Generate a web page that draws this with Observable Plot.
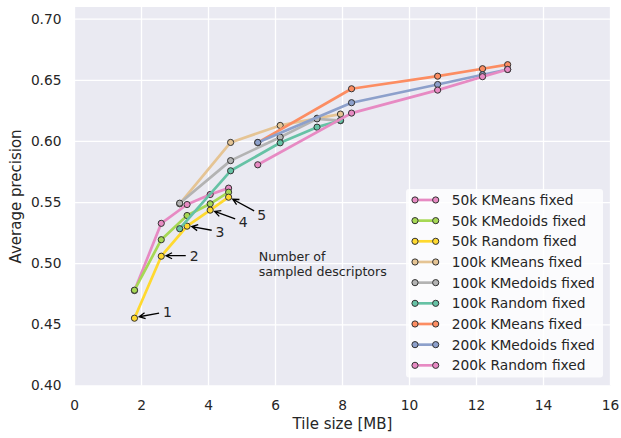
<!DOCTYPE html>
<html><head><meta charset="utf-8">
<script src="https://cdn.jsdelivr.net/npm/d3@7"></script>
<script src="https://cdn.jsdelivr.net/npm/@observablehq/plot@0.6"></script>
<style>
html,body{margin:0;padding:0;background:#fff;}
#chart svg{display:block;}
</style>
</head><body><div id="chart"></div>
<script>
// ---- data ----
const seriesNames = [
  "50k KMeans fixed", "50k KMedoids fixed", "50k Random fixed",
  "100k KMeans fixed", "100k KMedoids fixed", "100k Random fixed",
  "200k KMeans fixed", "200k KMedoids fixed", "200k Random fixed"
];
const seriesColors = ["#e78ac3", "#a6d854", "#ffd92f", "#e5c494", "#b3b3b3", "#66c2a5", "#fc8d62", "#8da0cb", "#e78ac3"];

const tileSize50k  = [1.79, 2.59, 3.36, 4.05, 4.60];
const tileSize100k = [3.14, 4.66, 6.14, 7.24, 7.94];
const tileSize200k = [5.47, 8.27, 10.84, 12.18, 12.93];

const ap50kKMeans    = [0.4780, 0.5330, 0.5484, 0.5566, 0.5618];
const ap50kKMedoids  = [0.4783, 0.5196, 0.5394, 0.5490, 0.5585];
const ap50kRandom    = [0.4554, 0.5061, 0.5307, 0.5438, 0.5544];
const ap100kKMeans   = [0.5490, 0.5992, 0.6131, 0.6190, 0.6224];
const ap100kKMedoids = [0.5495, 0.5843, 0.6035, 0.6185, 0.6170];
const ap100kRandom   = [0.5286, 0.5760, 0.5989, 0.6117, 0.6172];
const ap200kKMeans   = [0.5990, 0.6431, 0.6534, 0.6595, 0.6628];
const ap200kKMedoids = [0.5992, 0.6317, 0.6466, 0.6546, 0.6589];
const ap200kRandom   = [0.5809, 0.6232, 0.6420, 0.6530, 0.6589];

const annotationLabels = ["1", "2", "3", "4", "5"];
const noteText = "Number of\nsampled descriptors";
const xTicks = [0, 2, 4, 6, 8, 10, 12, 14, 16];
const yTicks = [0.40, 0.45, 0.50, 0.55, 0.60, 0.65, 0.70];

const seriesSizes = [tileSize50k, tileSize50k, tileSize50k, tileSize100k, tileSize100k, tileSize100k, tileSize200k, tileSize200k, tileSize200k];
const seriesValues = [ap50kKMeans, ap50kKMedoids, ap50kRandom, ap100kKMeans, ap100kKMedoids, ap100kRandom, ap200kKMeans, ap200kKMedoids, ap200kRandom];

const rows = seriesNames.flatMap((name, s) =>
  seriesValues[s].map((v, i) => ({series: name, size: seriesSizes[s][i], ap: v, step: i})));

// ---- marks ----
const LW = 2.7, MR = 3.1;
const seriesMarks = seriesNames.flatMap(name => {
  const d = rows.filter(r => r.series === name);
  return [
    Plot.line(d, {x: "size", y: "ap", stroke: "series", strokeWidth: LW}),
    Plot.dot(d, {x: "size", y: "ap", fill: "series", stroke: "#333", strokeWidth: 1, r: MR})
  ];
});

function annotations(index, scales, values, dims) {
  const g = d3.create("svg:g");
  const pts = rows.filter(r => r.series === "50k Random fixed");
  pts.forEach((p, i) => {
    const px = scales.x(p.size), py = scales.y(p.ap);
    const tx = scales.x(p.size + 1), ty = scales.y(p.ap + 0.005 - 0.005 * i);
    const ddx = px - tx, ddy = py - ty, len = Math.hypot(ddx, ddy);
    const ux = ddx / len, uy = ddy / len;
    const x0 = tx + 8.5 * ux, y0 = ty + 8.5 * uy;
    const x1 = px - 5.3 * ux, y1 = py - 5.3 * uy;
    const hl = 6, hw = 3, nx = -uy, ny = ux;
    const bx = x1 - hl * ux, by = y1 - hl * uy;
    g.append("path")
      .attr("d", `M${x0},${y0}L${x1},${y1}M${bx + hw * nx},${by + hw * ny}L${x1},${y1}L${bx - hw * nx},${by - hw * ny}`)
      .attr("fill", "none").attr("stroke", "#000").attr("stroke-width", 1.3);
    g.append("text").attr("x", tx).attr("y", ty).attr("dy", "0.36em")
      .attr("text-anchor", "middle").attr("font-size", 14).attr("fill", "#262626")
      .text(annotationLabels[i]);
  });
  return g.node();
}

function legend(index, scales, values, dims) {
  const {width, height, marginRight, marginBottom} = dims;
  const boxW = 197, rowH = 20.67;
  const boxH = seriesNames.length * rowH + 2.4;
  const right = width - marginRight - 7, bottom = height - marginBottom - 8;
  const left = right - boxW, top = bottom - boxH;
  const g = d3.create("svg:g");
  g.append("rect").attr("x", left).attr("y", top).attr("width", boxW).attr("height", boxH)
    .attr("rx", 3).attr("fill", "#fff").attr("fill-opacity", 0.8);
  seriesNames.forEach((name, i) => {
    const cy = top + 11 + i * rowH;
    const c = scales.color(name);
    g.append("line").attr("x1", left + 9).attr("x2", left + 29.7).attr("y1", cy).attr("y2", cy)
      .attr("stroke", c).attr("stroke-width", LW);
    [left + 9, left + 29.7].forEach(cx =>
      g.append("circle").attr("cx", cx).attr("cy", cy).attr("r", MR)
        .attr("fill", c).attr("stroke", "#333").attr("stroke-width", 1));
    g.append("text").attr("x", left + 45.7).attr("y", cy).attr("dy", "0.36em")
      .attr("text-anchor", "start")
      .attr("font-size", 13.8).attr("fill", "#262626").text(name);
  });
  return g.node();
}

const chart = Plot.plot({
  width: 621,
  height: 438,
  marginLeft: 74,
  marginRight: 11,
  marginTop: 6.5,
  marginBottom: 52.6,
  style: {fontFamily: "DejaVu Sans", fontSize: "13.75px", color: "#262626", background: "#fff"},
  x: {domain: [0, 16]},
  y: {domain: [0.40, 0.71]},
  color: {domain: seriesNames, range: seriesColors},
  marks: [
    Plot.frame({fill: "#EAEAF2", stroke: null}),
    Plot.gridX({ticks: xTicks, stroke: "#fff", strokeOpacity: 1, strokeWidth: 1.3}),
    Plot.gridY({ticks: yTicks, stroke: "#fff", strokeOpacity: 1, strokeWidth: 1.3}),
    Plot.axisX({ticks: xTicks, tickSize: 0, tickPadding: 14, label: null, fontSize: 13.75}),
    Plot.axisY({ticks: yTicks, tickFormat: d3.format(".2f"), tickSize: 0, tickPadding: 13, label: null, fontSize: 13.75}),
    Plot.text(["Tile size [MB]"], {frameAnchor: "bottom", dy: 43, fontSize: 15, fill: "#262626", textAnchor: "middle"}),
    Plot.text(["Average precision"], {frameAnchor: "left", dx: -58, rotate: -90, fontSize: 15, fill: "#262626", textAnchor: "middle"}),
    ...seriesMarks,
    Plot.text([noteText], {x: () => 5.5, y: () => 0.49, textAnchor: "start", lineAnchor: "bottom", fontSize: 12.6, fill: "#262626", lineHeight: 1.15}),
    annotations,
    legend
  ]
});
document.getElementById("chart").appendChild(chart);
</script>
</body></html>
